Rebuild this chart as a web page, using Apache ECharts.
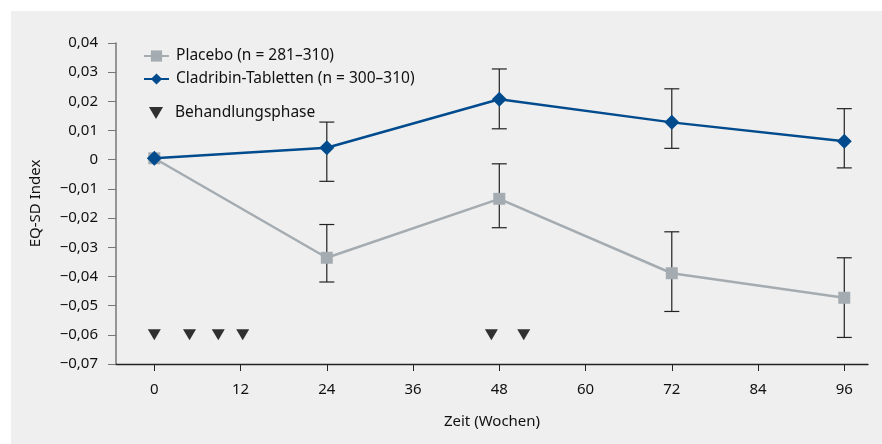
<!DOCTYPE html>
<html>
<head>
<meta charset="utf-8">
<script src="https://cdn.jsdelivr.net/npm/echarts@6/dist/echarts.min.js"></script>
<style>
  html, body { margin: 0; padding: 0; background: #fff; }
  #main { width: 882px; height: 444px; }
</style>
</head>
<body>
<div id="main"></div>
<script>
// Zeit in Wochen
const weeks = [0, 24, 48, 72, 96]
const xTicks = [0, 12, 24, 36, 48, 60, 72, 84, 96]

// Placebo: Mittelwert und Fehlerbalken
const placeboMean = [0.0005, -0.0336, -0.0134, -0.0389, -0.0473]
const placeboLow = [0.0005, -0.0419, -0.0233, -0.0520, -0.0609]
const placeboHigh = [0.0005, -0.0222, -0.0014, -0.0247, -0.0336]

// Cladribin-Tabletten
const cladMean = [0.0005, 0.0041, 0.0207, 0.0128, 0.0063]
const cladLow = [0.0005, -0.0074, 0.0106, 0.0039, -0.0028]
const cladHigh = [0.0005, 0.0129, 0.0311, 0.0243, 0.0175]

// Behandlungsphase (Dreiecke)
const phaseWeeks = [0, 4.9, 8.9, 12.3, 46.9, 51.4]
const phaseLevel = -0.06

const FONT = 'Noto Sans'
const TXT = '#111'

const fmtY = v => {
  if (Math.abs(v) < 1e-9) return '0'
  const s = Math.abs(v).toFixed(2).replace('.', ',')
  return v < 0 ? '\u2212' + s : s
}

const toPairs = (xs, ys) => xs.map((x, i) => [x, ys[i]])
const errData = []
weeks.forEach((w, i) => {
  if (w > 0) {
    errData.push([w, placeboLow[i], placeboHigh[i]])
    errData.push([w, cladLow[i], cladHigh[i]])
  }
})

const chart = echarts.init(document.getElementById('main'))

const option = {
  backgroundColor: '#ffffff',
  animation: false,
  textStyle: { fontFamily: FONT },
  graphic: [{
    type: 'rect',
    left: 11, top: 11, z: -10,
    shape: { width: 871, height: 433 },
    style: { fill: '#efefef' }
  }],
  grid: { left: 116, right: 14, top: 43, bottom: 80 },
  legend: [
    {
      left: 138, top: 43, orient: 'vertical', itemGap: 7,
      itemWidth: 25, itemHeight: 14,
      textStyle: { fontFamily: FONT, fontSize: 15.5, color: TXT, padding: [0, 0, 0, 2] },
      data: ['Placebo (n = 281–310)', 'Cladribin-Tabletten (n = 300–310)']
    },
    {
      left: 144, top: 100, orient: 'vertical',
      itemWidth: 14, itemHeight: 12,
      textStyle: { fontFamily: FONT, fontSize: 15.5, color: TXT, padding: [0, 0, 0, 7] },
      data: [{ name: 'Behandlungsphase', icon: 'path://M0,0 L14,0 L7,12 Z' }]
    }
  ],
  xAxis: {
    type: 'value', min: -5.33, max: 99.3,
    name: 'Zeit (Wochen)', nameLocation: 'middle', nameGap: 50,
    nameTextStyle: { fontFamily: FONT, fontSize: 15, color: TXT },
    splitLine: { show: false },
    axisLine: { onZero: false, lineStyle: { color: '#222', width: 1.3 } },
    axisTick: { show: true, customValues: xTicks, length: 7, lineStyle: { color: '#222' } },
    axisLabel: { customValues: xTicks, margin: 18, fontSize: 15, color: TXT, fontFamily: FONT }
  },
  yAxis: {
    type: 'value', min: -0.07, max: 0.04, interval: 0.01,
    name: 'EQ-SD Index', nameLocation: 'middle', nameGap: 73,
    nameTextStyle: { fontFamily: FONT, fontSize: 15, color: TXT },
    splitLine: { show: false },
    axisLine: { show: true, onZero: false, lineStyle: { color: '#777', width: 1.5 } },
    axisTick: { show: true, length: 8, lineStyle: { color: '#777' } },
    axisLabel: { margin: 18, fontSize: 15, color: TXT, fontFamily: FONT, formatter: fmtY }
  },
  series: [
    {
      type: 'custom',
      name: 'err',
      z: 1,
      data: errData,
      renderItem: (params, api) => {
        const x = api.value(0)
        const lo = api.coord([x, api.value(1)])
        const hi = api.coord([x, api.value(2)])
        const w = 7.5
        const st = { stroke: '#222', lineWidth: 1.2 }
        return {
          type: 'group',
          children: [
            { type: 'line', shape: { x1: lo[0], y1: lo[1], x2: hi[0], y2: hi[1] }, style: st },
            { type: 'line', shape: { x1: lo[0] - w, y1: lo[1], x2: lo[0] + w, y2: lo[1] }, style: st },
            { type: 'line', shape: { x1: hi[0] - w, y1: hi[1], x2: hi[0] + w, y2: hi[1] }, style: st }
          ]
        }
      }
    },
    {
      type: 'line',
      name: 'Placebo (n = 281–310)',
      z: 3,
      data: toPairs(weeks, placeboMean),
      symbol: 'rect', symbolSize: 12,
      lineStyle: { color: '#a5acb1', width: 2.5 },
      itemStyle: { color: '#a5acb1' }
    },
    {
      type: 'line',
      name: 'Cladribin-Tabletten (n = 300–310)',
      z: 4,
      data: toPairs(weeks, cladMean),
      symbol: 'diamond', symbolSize: 15,
      lineStyle: { color: '#004b8d', width: 2.5 },
      itemStyle: { color: '#004b8d' }
    },
    {
      type: 'scatter',
      name: 'Behandlungsphase',
      z: 4,
      data: phaseWeeks.map(w => [w, phaseLevel]),
      symbol: 'triangle', symbolRotate: 180, symbolSize: [13, 11],
      itemStyle: { color: '#000' }
    }
  ]
}

chart.setOption(option)
</script>
</body>
</html>
